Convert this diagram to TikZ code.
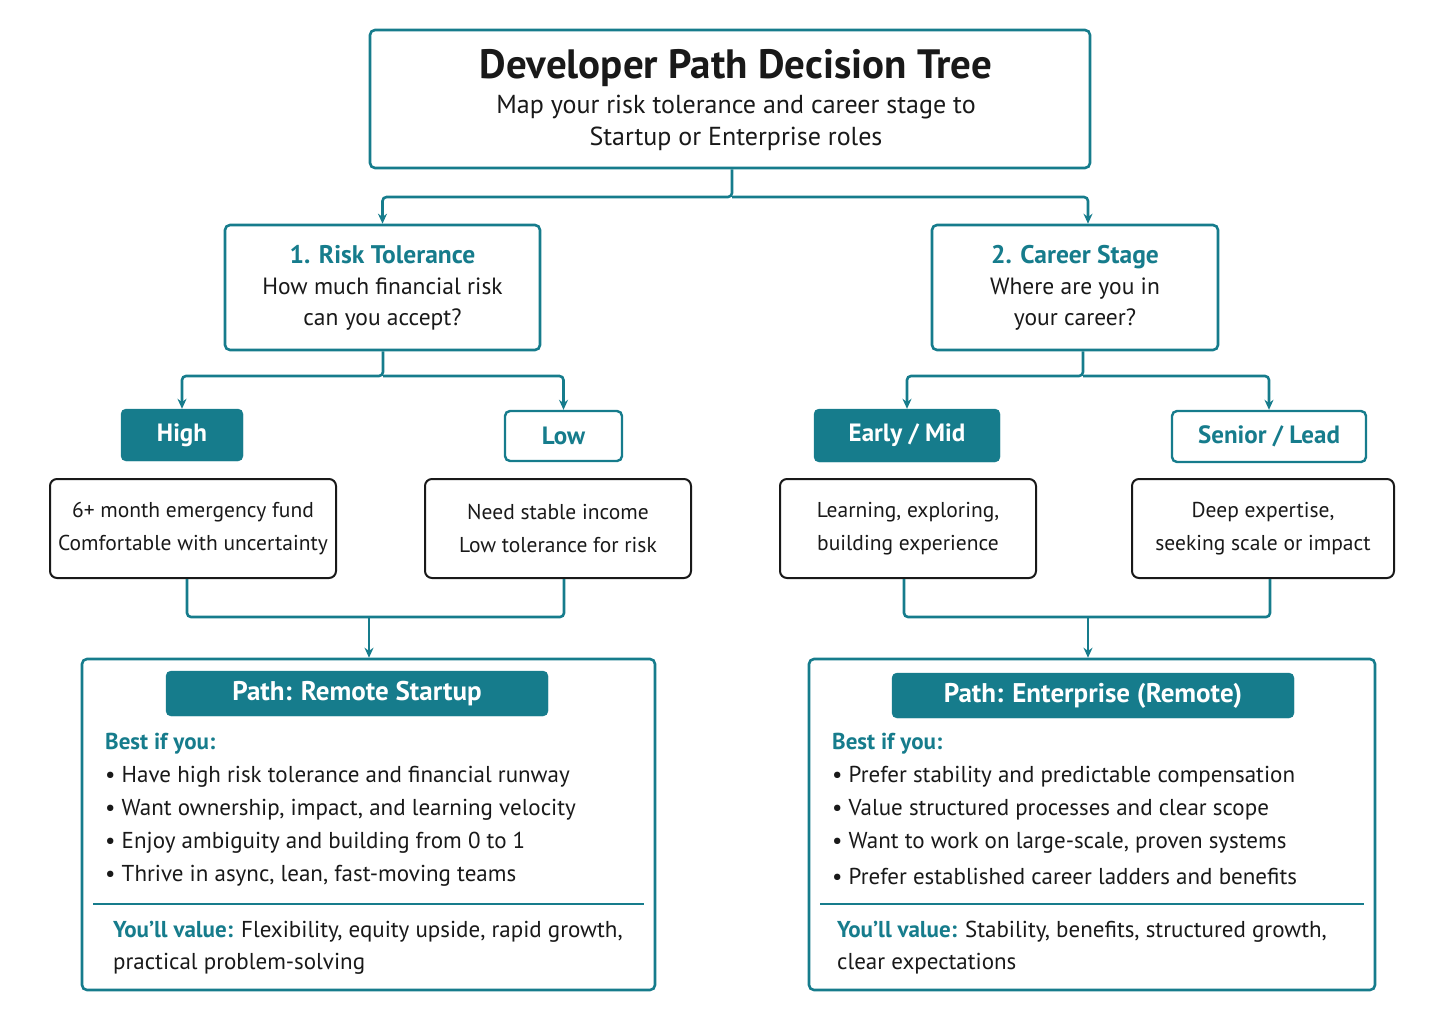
\documentclass[tikz,border=0pt]{standalone}
\usepackage{fontspec}
\setmainfont{PT Sans}
\usetikzlibrary{arrows.meta,calc}
\definecolor{teal1}{RGB}{22,124,140}
\definecolor{ink}{RGB}{25,25,25}
\begin{document}
\begin{tikzpicture}[x=1pt,y=-1pt,
  tbox/.style={draw=teal1,line width=2.6pt,rounded corners=5pt,fill=white},
  kbox/.style={draw=ink,line width=2pt,rounded corners=7pt,align=center,font=\fontsize{21.5}{33}\selectfont,text=ink},
  fillb/.style={fill=teal1,draw=teal1,rounded corners=5pt,text=white,font=\bfseries\fontsize{25}{30}\selectfont},
  outb/.style={fill=white,draw=teal1,line width=2.4pt,rounded corners=5pt,text=teal1,font=\bfseries\fontsize{25}{30}\selectfont},
  con/.style={draw=teal1,line width=2.6pt,rounded corners=4pt},
  arr/.style={con,-{Stealth[length=10pt,width=9pt]}},
  bl/.style={anchor=west,font=\fontsize{23}{28}\selectfont,text=ink,inner sep=0pt}]
\useasboundingbox (0,0) rectangle (1445,1023);
% title
\node[tbox,minimum width=720,minimum height=138] (t) at (730,99) {};
\node[font=\bfseries\fontsize{41}{46}\selectfont,text=ink] (tt) at (736,68) {Developer Path Decision Tree};
\node[font=\fontsize{26}{32}\selectfont,align=center,text=ink] (ts) at (736,123) {Map your risk tolerance and career stage to\\Startup or Enterprise roles};
% level 1
\node[tbox,minimum width=315,minimum height=125,align=center,font=\fontsize{23.5}{31}\selectfont,text=ink] (r) at (382.5,287.5)
 {{\color{teal1}\bfseries\fontsize{25.5}{31}\selectfont 1. Risk Tolerance}\\How much financial risk\\can you accept?};
\node[tbox,minimum width=286,minimum height=125,align=center,font=\fontsize{23.5}{31}\selectfont,text=ink] (c) at (1075,287.5)
 {{\color{teal1}\bfseries\fontsize{25.5}{31}\selectfont 2. Career Stage}\\Where are you in\\your career?};
\coordinate (j1) at (732,197);
\draw[arr] (t.south -| j1) -- (j1) -| (r.north);
\draw[arr] (j1) -| ($(c.north)+(13,0)$);
% level 2
\node[fillb,minimum width=122,minimum height=52] (h) at (182,435) {High};
\node[outb,minimum width=117,minimum height=50] (l) at (563.5,436) {Low};
\node[fillb,minimum width=186,minimum height=53] (e) at (907,435.5) {Early / Mid};
\node[outb,minimum width=194,minimum height=51] (s) at (1269,436.5) {Senior / Lead};
\coordinate (j2) at (383,376);
\coordinate (j3) at (1083,376);
\draw[arr] (r.south -| j2) -- (j2) -| (h.north);
\draw[arr] (j2) -| (l.north);
\draw[arr] (c.south -| j3) -- (j3) -| (e.north);
\draw[arr] (j3) -| (s.north);
% descriptions
\node[kbox,minimum width=286,minimum height=99] (d1) at (193,528.5) {6+ month emergency fund\\Comfortable with uncertainty};
\node[kbox,minimum width=266,minimum height=99] (d2) at (558,528.5) {Need stable income\\Low tolerance for risk};
\node[kbox,minimum width=256,minimum height=99] (d3) at (908,528.5) {Learning, exploring,\\building experience};
\node[kbox,minimum width=262,minimum height=99] (d4) at (1263,528.5) {Deep expertise,\\seeking scale or impact};
% paths
\node[tbox,minimum width=573,minimum height=331] (p1) at (368.5,824.5) {};
\node[tbox,minimum width=566,minimum height=331] (p2) at (1092,824.5) {};
\coordinate (m1) at (369,617);
\coordinate (m2) at (1088,617);
\draw[con] ($(d1.south)+(-6,0)$) |- (m1) -| ($(d2.south)+(6,0)$);
\draw[con] ($(d3.south)+(-4,0)$) |- (m2) -| ($(d4.south)+(7,0)$);
\draw[arr] (m1) -- (m1 |- p1.north);
\draw[arr] (m2) -- (m2 |- p2.north);
% left path content
\node[fillb,minimum width=382,minimum height=45,font=\bfseries\fontsize{27}{30}\selectfont] (h1) at (357,693.5) {Path: Remote Startup};
\node[bl,text=teal1,font=\bfseries\fontsize{23}{28}\selectfont] (b1) at (105,744) {Best if you:};
\node[bl] (b1a) at (105,777) {• Have high risk tolerance and financial runway};
\node[bl] (b1b) at (105,810) {• Want ownership, impact, and learning velocity};
\node[bl] (b1c) at (105,843) {• Enjoy ambiguity and building from 0 to 1};
\node[bl] (b1d) at (105,876) {• Thrive in async, lean, fast-moving teams};
\coordinate (s1a) at (93,904); \coordinate (s1b) at (644,904);
\draw[teal1,line width=2pt] (s1a) -- (s1b);
\node[bl] (v1) at (113,932) {{\color{teal1}\bfseries You’ll value:} Flexibility, equity upside, rapid growth,};
\node[bl] (v1b) at (113,964) {practical problem-solving};
% right path content
\node[fillb,minimum width=402,minimum height=45,font=\bfseries\fontsize{27}{30}\selectfont] (h2) at (1093,695.5) {Path: Enterprise (Remote)};
\node[bl,text=teal1,font=\bfseries\fontsize{23}{28}\selectfont] (b2) at (832,744) {Best if you:};
\node[bl] (b2a) at (832,777) {• Prefer stability and predictable compensation};
\node[bl] (b2b) at (832,810) {• Value structured processes and clear scope};
\node[bl] (b2c) at (832,843) {• Want to work on large-scale, proven systems};
\node[bl] (b2d) at (832,876) {• Prefer established career ladders and benefits};
\coordinate (s2a) at (820,904); \coordinate (s2b) at (1364,904);
\draw[teal1,line width=2pt] (s2a) -- (s2b);
\node[bl] (v2) at (837,932) {{\color{teal1}\bfseries You’ll value:} Stability, benefits, structured growth,};
\node[bl] (v2b) at (837,964) {clear expectations};
\end{tikzpicture}
\end{document}
